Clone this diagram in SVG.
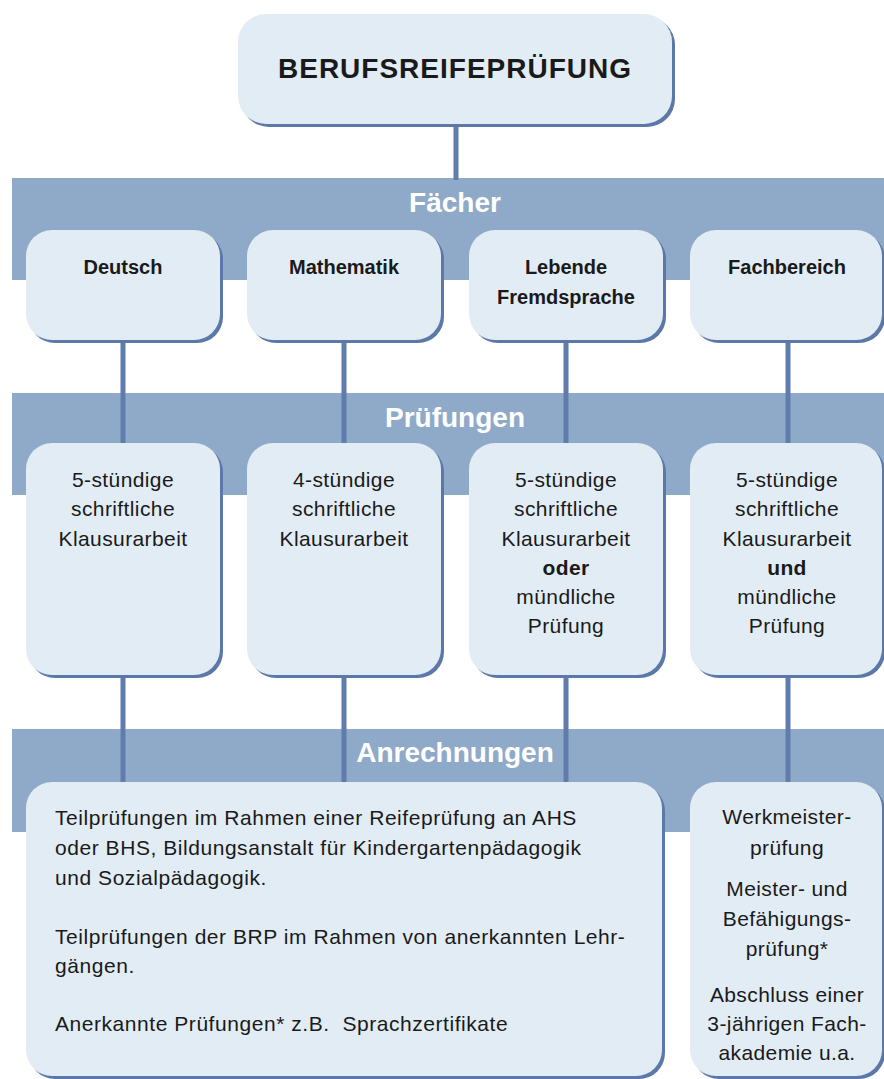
<svg xmlns="http://www.w3.org/2000/svg" width="884" height="1079" viewBox="0 0 884 1079">
<style>
.band{fill:#8faac8}
.box{fill:#e2ecf4}
.sh{fill:#5b78a8}
.con{stroke:#5f7cab;stroke-width:5;fill:none}
.bl{font-family:"Liberation Sans",Arial,sans-serif;font-weight:bold;font-size:28px;fill:#ffffff;text-anchor:middle}
.t1{font-family:"Liberation Sans",Arial,sans-serif;font-weight:bold;font-size:20px;fill:#1a1a1a;text-anchor:middle}
.t2{font-family:"Liberation Sans",Arial,sans-serif;font-size:21px;letter-spacing:0.4px;fill:#1a1a1a;text-anchor:middle}
.t3{font-family:"Liberation Sans",Arial,sans-serif;font-size:21px;letter-spacing:0.55px;fill:#1a1a1a}
.b{font-weight:bold}
</style>
<rect width="884" height="1079" fill="#ffffff"/>
<g id="bands">
<rect class="band" x="12" y="178" width="872" height="102"/>
<rect class="band" x="12" y="393" width="872" height="102"/>
<rect class="band" x="12" y="729" width="872" height="103"/>
<text class="bl" x="455" y="212">Fächer</text>
<text class="bl" x="455" y="427">Prüfungen</text>
<text class="bl" x="455" y="762">Anrechnungen</text>
</g>
<g id="connectors">
<line class="con" x1="456" y1="120" x2="456" y2="180"/>
<line class="con" x1="123" y1="335" x2="123" y2="448"/>
<line class="con" x1="344" y1="335" x2="344" y2="448"/>
<line class="con" x1="566" y1="335" x2="566" y2="448"/>
<line class="con" x1="788" y1="335" x2="788" y2="448"/>
<line class="con" x1="123" y1="670" x2="123" y2="787"/>
<line class="con" x1="344" y1="670" x2="344" y2="787"/>
<line class="con" x1="566" y1="670" x2="566" y2="787"/>
<line class="con" x1="788" y1="670" x2="788" y2="787"/>
</g>
<g id="node-brp">
<rect class="sh" x="241" y="17" width="434" height="110" rx="28"/>
<rect class="box" x="238" y="14" width="434" height="110" rx="28"/>
<text x="455" y="78" font-family="Liberation Sans, Arial, sans-serif" font-weight="bold" font-size="28" letter-spacing="1" fill="#1a1a1a" text-anchor="middle">BERUFSREIFEPRÜFUNG</text>
</g>
<g id="node-deutsch">
<rect class="sh" x="29" y="233" width="194" height="110" rx="26"/>
<rect class="box" x="26" y="230" width="194" height="110" rx="26"/>
<text class="t1" x="123" y="274">Deutsch</text>
</g>
<g id="node-mathematik">
<rect class="sh" x="250" y="233" width="194" height="110" rx="26"/>
<rect class="box" x="247" y="230" width="194" height="110" rx="26"/>
<text class="t1" x="344" y="274">Mathematik</text>
</g>
<g id="node-fremdsprache">
<rect class="sh" x="472" y="233" width="194" height="110" rx="26"/>
<rect class="box" x="469" y="230" width="194" height="110" rx="26"/>
<text class="t1" x="566" y="274">Lebende</text>
<text class="t1" x="566" y="304">Fremdsprache</text>
</g>
<g id="node-fachbereich">
<rect class="sh" x="693" y="233" width="192" height="110" rx="26"/>
<rect class="box" x="690" y="230" width="192" height="110" rx="26"/>
<text class="t1" x="787" y="274">Fachbereich</text>
</g>
<g id="node-pruefung-deutsch">
<rect class="sh" x="29" y="446" width="194" height="232" rx="26"/>
<rect class="box" x="26" y="443" width="194" height="232" rx="26"/>
<text class="t2" x="123" y="487">5-stündige</text>
<text class="t2" x="123" y="516">schriftliche</text>
<text class="t2" x="123" y="546">Klausurarbeit</text>
</g>
<g id="node-pruefung-mathematik">
<rect class="sh" x="250" y="446" width="194" height="232" rx="26"/>
<rect class="box" x="247" y="443" width="194" height="232" rx="26"/>
<text class="t2" x="344" y="487">4-stündige</text>
<text class="t2" x="344" y="516">schriftliche</text>
<text class="t2" x="344" y="546">Klausurarbeit</text>
</g>
<g id="node-pruefung-fremdsprache">
<rect class="sh" x="472" y="446" width="194" height="232" rx="26"/>
<rect class="box" x="469" y="443" width="194" height="232" rx="26"/>
<text class="t2" x="566" y="487">5-stündige</text>
<text class="t2" x="566" y="516">schriftliche</text>
<text class="t2" x="566" y="546">Klausurarbeit</text>
<text class="t2 b" x="566" y="575">oder</text>
<text class="t2" x="566" y="604">mündliche</text>
<text class="t2" x="566" y="633">Prüfung</text>
</g>
<g id="node-pruefung-fachbereich">
<rect class="sh" x="693" y="446" width="192" height="232" rx="26"/>
<rect class="box" x="690" y="443" width="192" height="232" rx="26"/>
<text class="t2" x="787" y="487">5-stündige</text>
<text class="t2" x="787" y="516">schriftliche</text>
<text class="t2" x="787" y="546">Klausurarbeit</text>
<text class="t2 b" x="787" y="575">und</text>
<text class="t2" x="787" y="604">mündliche</text>
<text class="t2" x="787" y="633">Prüfung</text>
</g>
<g id="node-anrechnungen">
<rect class="sh" x="29" y="785" width="636" height="294" rx="26"/>
<rect class="box" x="26" y="782" width="636" height="294" rx="26"/>
<text class="t3" x="55" y="825">Teilprüfungen im Rahmen einer Reifeprüfung an AHS</text>
<text class="t3" x="55" y="855">oder BHS, Bildungsanstalt für Kindergartenpädagogik</text>
<text class="t3" x="55" y="885">und Sozialpädagogik.</text>
<text class="t3" x="55" y="944">Teilprüfungen der BRP im Rahmen von anerkannten Lehr-</text>
<text class="t3" x="55" y="973">gängen.</text>
<text class="t3" x="55" y="1031" xml:space="preserve">Anerkannte Prüfungen* z.B.  Sprachzertifikate</text>
</g>
<g id="node-anrechnungen-fach">
<rect class="sh" x="693" y="785" width="192" height="294" rx="26"/>
<rect class="box" x="690" y="782" width="192" height="294" rx="26"/>
<text class="t2" x="787" y="824">Werkmeister-</text>
<text class="t2" x="787" y="855">prüfung</text>
<text class="t2" x="787" y="896">Meister- und</text>
<text class="t2" x="787" y="926">Befähigungs-</text>
<text class="t2" x="787" y="956">prüfung*</text>
<text class="t2" x="787" y="1002">Abschluss einer</text>
<text class="t2" x="787" y="1031">3-jährigen Fach-</text>
<text class="t2" x="787" y="1060">akademie u.a.</text>
</g>
</svg>
